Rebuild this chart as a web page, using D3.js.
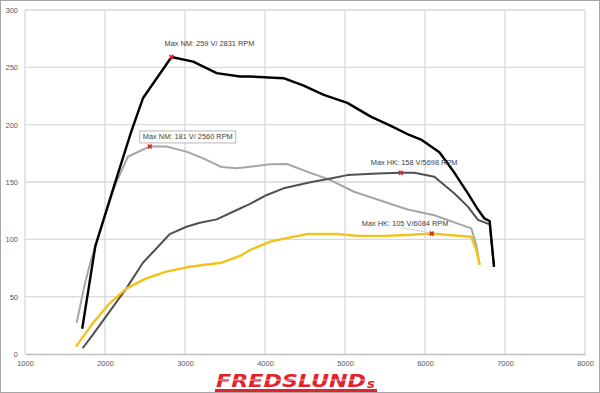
<!DOCTYPE html>
<html>
<head>
<meta charset="utf-8">
<script src="https://cdn.jsdelivr.net/npm/d3@7"></script>
<style>
  html, body { margin: 0; padding: 0; background: #fff; }
  svg { display: block; }
</style>
</head>
<body>
<div id="plot"></div>
<script>
// torque, first car (black)
const nm1Rpm = [1715, 1879, 2097, 2328, 2474, 2831, 3102, 3396, 3688, 3814, 4232, 4484, 4735, 5029, 5322, 5573, 5803, 5950, 6180, 6368, 6536, 6662, 6745, 6808, 6863];
const nm1Val = [22, 94, 143, 194, 223, 259, 255, 245, 242, 242, 240.5, 234, 226, 219, 207, 199, 191, 187, 176, 158, 140, 126, 118, 116, 76];

// torque, second car (light grey)
const nm2Rpm = [1645, 1741, 1825, 1971, 2118, 2286, 2560, 2767, 3018, 3228, 3458, 3647, 3814, 4065, 4275, 4568, 4819, 5112, 5489, 5783, 6117, 6578, 6641, 6683];
const nm2Val = [27, 59, 82, 114, 146, 172, 181, 181, 176.5, 170.6, 163, 162, 163.3, 165.5, 165.7, 158, 151.7, 141.5, 132.8, 126, 121, 109.6, 95, 78];

// power, first car (dark grey)
const hk1Rpm = [1720, 1846, 2265, 2474, 2642, 2809, 3018, 3186, 3396, 3647, 3814, 4024, 4232, 4568, 4819, 5029, 5406, 5698, 5866, 6117, 6368, 6536, 6662, 6808, 6863];
const hk1Val = [5, 16.6, 57, 79.6, 92, 104.6, 111, 114.5, 117.4, 125.6, 131, 138.7, 144.5, 149.7, 153, 156, 157.5, 158, 158, 154.6, 140, 128.5, 117, 113, 76];

// power, second car (yellow)
const hk2Rpm = [1637, 1846, 2055, 2265, 2516, 2767, 3018, 3228, 3458, 3688, 3814, 4065, 4317, 4526, 4903, 5155, 5489, 5783, 6084, 6578, 6641, 6683];
const hk2Val = [6.4, 26.7, 44, 57, 66, 71.8, 75.6, 77.6, 79.6, 85.5, 90.7, 98, 101.7, 104.6, 104.6, 103, 103, 103.8, 105, 102.3, 90.7, 77.6];

// peak annotations
const peakRpm = [2831, 2560, 5698, 6084];
const peakVal = [259, 181, 158, 105];
const peakText = ["Max NM: 259 V/ 2831 RPM", "Max NM: 181 V/ 2560 RPM", "Max HK: 158 V/5698 RPM", "Max HK: 105 V/6084 RPM"];

const xTicks = [1000, 2000, 3000, 4000, 5000, 6000, 7000, 8000];
const yTicks = [0, 50, 100, 150, 200, 250, 300];

const width = 600;
const height = 393;
const margin = { top: 10, right: 15, bottom: 39, left: 25 };

const svg = d3.select("#plot")
  .append("svg")
  .attr("width", width)
  .attr("height", height);

// outer frame
svg.append("rect")
  .attr("x", 0.5).attr("y", 0.5)
  .attr("width", width - 1).attr("height", height - 1)
  .attr("fill", "#fff")
  .attr("stroke", "#a6a6a6");

const x = d3.scaleLinear().domain([1000, 8000]).range([margin.left, width - margin.right]);
const y = d3.scaleLinear().domain([0, 300]).range([height - margin.bottom, margin.top]);

// grid
svg.append("g")
  .selectAll("line.v")
  .data(xTicks.slice(1))
  .enter().append("line")
  .attr("x1", d => x(d)).attr("x2", d => x(d))
  .attr("y1", y(0)).attr("y2", y(300))
  .attr("stroke", "#d9d9d9").attr("stroke-width", 1.3);

svg.append("g")
  .selectAll("line.h")
  .data(yTicks.slice(1))
  .enter().append("line")
  .attr("x1", x(1000)).attr("x2", x(8000))
  .attr("y1", d => y(d)).attr("y2", d => y(d))
  .attr("stroke", "#d9d9d9").attr("stroke-width", 1.3);

// axes
const xAxis = svg.append("g")
  .attr("transform", `translate(0,${y(0)})`)
  .call(d3.axisBottom(x).tickValues(xTicks).tickSize(0).tickPadding(7).tickFormat(d3.format("d")));
const yAxis = svg.append("g")
  .attr("transform", `translate(${x(1000)},0)`)
  .call(d3.axisLeft(y).tickValues(yTicks).tickSize(0).tickPadding(7));

[xAxis, yAxis].forEach(a => {
  a.select(".domain").attr("stroke", "#bfbfbf").attr("stroke-width", 1.3);
  a.selectAll("text")
    .attr("font-family", "'Liberation Sans', Arial, sans-serif")
    .attr("font-size", "7.5px")
    .attr("fill", "#595959");
});
yAxis.select(".domain").remove();
svg.append("line")
  .attr("x1", x(1000)).attr("x2", x(1000))
  .attr("y1", y(0)).attr("y2", y(300))
  .attr("stroke", "#d9d9d9").attr("stroke-width", 1.3);

// lines
const line = d3.line()
  .x(d => x(d[0]))
  .y(d => y(d[1]));

const series = [
  { rpm: nm2Rpm, val: nm2Val, color: "#a6a6a6", w: 2 },
  { rpm: hk1Rpm, val: hk1Val, color: "#505050", w: 2 },
  { rpm: hk2Rpm, val: hk2Val, color: "#f2c21b", w: 2.4 },
  { rpm: nm1Rpm, val: nm1Val, color: "#000000", w: 2.4 }
];

svg.append("g")
  .selectAll("path")
  .data(series)
  .enter().append("path")
  .attr("d", s => line(s.rpm.map((r, i) => [r, s.val[i]])))
  .attr("fill", "none")
  .attr("stroke", s => s.color)
  .attr("stroke-width", s => s.w)
  .attr("stroke-linejoin", "round");

// annotations
const font = "'Liberation Sans', Arial, sans-serif";
const labelDx = [-7, -7, -30, -70];
const labelDy = [-11, -7, -8, -8];

// leader line for the last label
svg.append("line")
  .attr("x1", x(peakRpm[3]) - 31).attr("y1", y(peakVal[3]) - 6)
  .attr("x2", x(peakRpm[3]) - 3).attr("y2", y(peakVal[3]) - 1)
  .attr("stroke", "#bfbfbf").attr("stroke-width", 0.7);

const labels = svg.append("g");
peakText.forEach((t, i) => {
  const tx = x(peakRpm[i]) + labelDx[i];
  const ty = y(peakVal[i]) + labelDy[i];
  const txt = labels.append("text")
    .attr("x", tx).attr("y", ty)
    .attr("font-family", font)
    .attr("font-size", "7.4px")
    .attr("fill", "#404040")
    .text(t);
  if (i === 1) {
    const bb = txt.node().getBBox();
    labels.insert("rect", "text")
      .attr("x", bb.x - 3).attr("y", bb.y - 1.5)
      .attr("width", bb.width + 6).attr("height", bb.height + 3)
      .attr("fill", "#fff")
      .attr("stroke", "#a6a6a6").attr("stroke-width", 0.8);
  }
});

// peak markers
const star = d3.symbol().type(d3.symbolCross).size(16);
svg.append("g")
  .selectAll("path")
  .data(peakRpm)
  .enter().append("path")
  .attr("d", star)
  .attr("transform", (d, i) => `translate(${x(d)},${y(peakVal[i])}) rotate(45)`)
  .attr("fill", "#d9262b");

// logo
const logo = svg.append("g");
logo.append("text")
  .attr("x", 216).attr("y", 387)
  .attr("font-family", "'DejaVu Sans', sans-serif")
  .attr("font-weight", "bold")
  .attr("font-style", "italic")
  .attr("font-size", "18px")
  .attr("textLength", 150)
  .attr("lengthAdjust", "spacingAndGlyphs")
  .attr("fill", "#e3232b")
  .text("FREDSLUND");
logo.append("text")
  .attr("x", 367).attr("y", 388)
  .attr("font-family", "'DejaVu Sans', sans-serif")
  .attr("font-weight", "bold")
  .attr("font-style", "italic")
  .attr("font-size", "13px")
  .attr("fill", "#e3232b")
  .text("s");
logo.append("rect")
  .attr("x", 215).attr("y", 389)
  .attr("width", 162).attr("height", 3)
  .attr("fill", "#e3232b");
logo.append("line")
  .attr("x1", 214).attr("x2", 385)
  .attr("y1", 380).attr("y2", 380)
  .attr("stroke", "#fff").attr("stroke-width", 0.8)
  .attr("opacity", 0.8);
</script>
</body>
</html>
